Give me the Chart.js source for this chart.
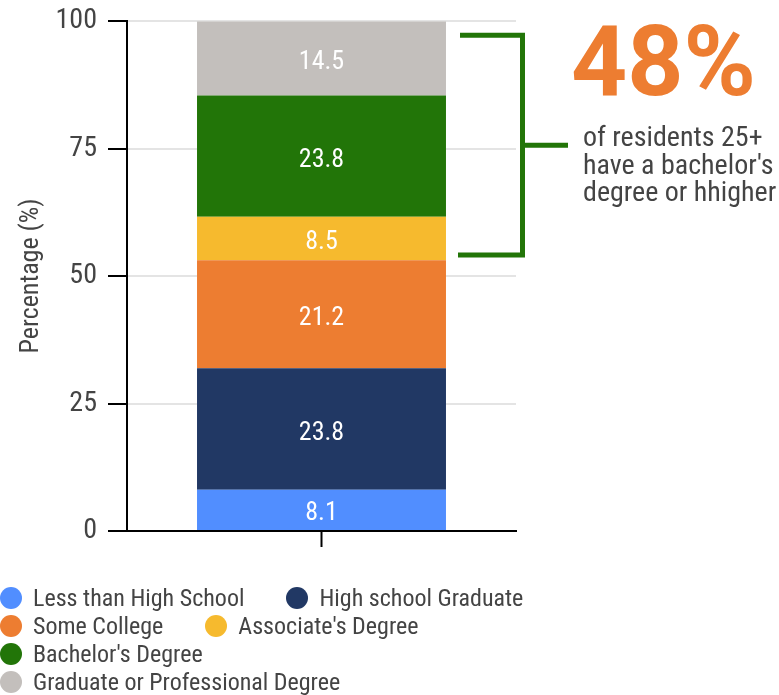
<!DOCTYPE html>
<html>
<head>
<meta charset="utf-8">
<script src="https://cdn.jsdelivr.net/npm/chart.js@4.4.1/dist/chart.umd.min.js"></script>
<style>
  body { margin: 0; background: #fff; }
  #wrap { position: relative; width: 779px; height: 695px; }
  #legend {
    position: absolute; left: 0; top: 584px; width: 560px;
    display: flex; flex-wrap: wrap; column-gap: 42px;
    font: 24px "Roboto Condensed", Roboto, sans-serif; color: #444; line-height: 28px;
  }
  .item { display: flex; align-items: center; }
  .dot { width: 22px; height: 22px; border-radius: 50%; margin-right: 11px; flex: none; }
</style>
</head>
<body>
<div id="wrap">
  <canvas id="myChart"></canvas>
  <div id="legend"></div>
</div>
<script>
// data
const categories = ['Less than High School', 'High school Graduate', 'Some College',
                    "Associate's Degree", "Bachelor's Degree", 'Graduate or Professional Degree'];
const values = [8.1, 23.8, 21.2, 8.5, 23.8, 14.5];
const colors = ['#518EFF', '#213864', '#ED7D31', '#F6BA2E', '#227508', '#C3BFBC'];
const yTicks = [0, 25, 50, 75, 100];
const bracketFrom = 54.1;
const bracketTo = 97.2;
const bigNumber = '48%';
const noteLines = ['of residents 25+', "have a bachelor's", 'degree or hhigher'];

const FONT = '"Roboto Condensed", Roboto, sans-serif';

// white value labels in the middle of each segment
const valueLabels = {
  id: 'valueLabels',
  afterDatasetsDraw(chart) {
    const ctx = chart.ctx;
    ctx.save();
    ctx.fillStyle = '#fff';
    ctx.font = '26px ' + FONT;
    ctx.textAlign = 'center';
    ctx.textBaseline = 'middle';
    chart.data.datasets.forEach((ds, i) => {
      chart.getDatasetMeta(i).data.forEach((bar, j) => {
        const {x, y, base} = bar.getProps(['x', 'y', 'base'], true);
        ctx.fillText(ds.data[j].toFixed(1), x, (y + base) / 2 + 4);
      });
    });
    ctx.restore();
  }
};

// the bracket and the "48%" note on the right
const note = {
  id: 'note',
  afterDraw(chart) {
    const ctx = chart.ctx;
    const area = chart.chartArea;
    const y = chart.scales.y;
    const top = y.getPixelForValue(bracketTo);
    const bot = y.getPixelForValue(bracketFrom);
    const mid = (top + bot) / 2;
    const xv = area.right + 6.5;
    ctx.save();
    ctx.strokeStyle = '#227508';
    ctx.lineWidth = 5;
    ctx.lineJoin = 'miter';
    ctx.beginPath();
    ctx.moveTo(area.right - 56, top);
    ctx.lineTo(xv, top);
    ctx.lineTo(xv, bot);
    ctx.lineTo(area.right - 58, bot);
    ctx.moveTo(xv, mid);
    ctx.lineTo(area.right + 52, mid);
    ctx.stroke();

    ctx.fillStyle = '#ED7D31';
    ctx.font = 'bold 98px Roboto, sans-serif';
    ctx.textAlign = 'left';
    ctx.textBaseline = 'alphabetic';
    ctx.fillText(bigNumber, area.right + 55, 95);

    ctx.fillStyle = '#444';
    ctx.font = '28px ' + FONT;
    noteLines.forEach((line, i) => {
      ctx.fillText(line, area.right + 67, 146 + i * 27.5);
    });
    ctx.restore();
  }
};

const datasets = categories.map((name, i) => ({
  label: name,
  data: [values[i]],
  backgroundColor: colors[i],
  borderWidth: 0,
  barPercentage: 0.8,
  categoryPercentage: 0.8
}));

const ctx = document.getElementById('myChart').getContext('2d');
const config = {
  type: 'bar',
  data: { labels: [''], datasets: datasets },
  options: {
    responsive: true,
    maintainAspectRatio: false,
    animation: false,
    layout: { padding: { top: 21, right: 263, bottom: 148, left: 0 } },
    plugins: {
      legend: { display: false },
      tooltip: { enabled: false }
    },
    scales: {
      x: {
        stacked: true,
        grid: { offset: false, drawOnChartArea: false, tickLength: 16, tickColor: '#000', tickWidth: 2 },
        border: { color: '#000', width: 2 },
        ticks: { display: false }
      },
      y: {
        stacked: true,
        min: 0,
        max: 100,
        afterBuildTicks: axis => { axis.ticks = yTicks.map(v => ({ value: v })); },
        afterFit: axis => { axis.width = 127; },
        grid: { color: '#e4e4e4', lineWidth: 2, tickLength: 19, tickColor: '#000', tickWidth: 2 },
        border: { color: '#000', width: 2 },
        ticks: { font: { family: FONT, size: 28, lineHeight: 0.6 }, color: '#444', padding: 11 },
        title: {
          display: true,
          text: 'Percentage (%)',
          font: { family: FONT, size: 26 },
          color: '#444',
          padding: { top: 16, bottom: 0 }
        }
      }
    }
  },
  plugins: [valueLabels, note]
};
const myChart = new Chart(ctx, config);

// legend under the chart
const legend = document.getElementById('legend');
categories.forEach((name, i) => {
  const item = document.createElement('div');
  item.className = 'item';
  const dot = document.createElement('span');
  dot.className = 'dot';
  dot.style.background = colors[i];
  const text = document.createElement('span');
  text.textContent = name;
  item.appendChild(dot);
  item.appendChild(text);
  legend.appendChild(item);
});
</script>
</body>
</html>
